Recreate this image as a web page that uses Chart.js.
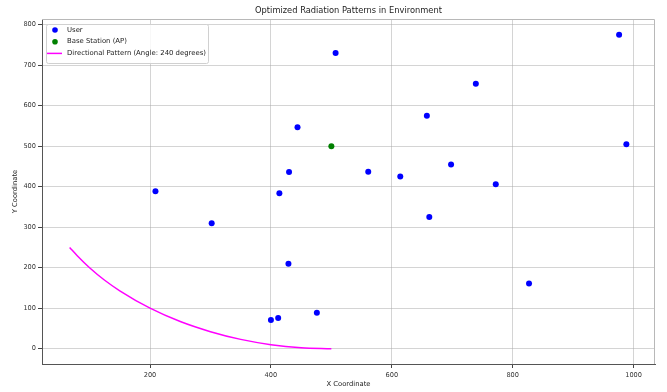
<!DOCTYPE html>
<html lang="en">
<head>
<meta charset="UTF-8">
<title>Optimized Radiation Patterns in Environment</title>
<script src="https://cdn.jsdelivr.net/npm/chart.js"></script>
<style>
    body { margin: 0; background: #fff; }
    #wrap { width: 667px; height: 392px; }
</style>
</head>
<body>
<div id="wrap"><canvas id="chart" width="667" height="392"></canvas></div>
<script>
// Users
const userX = [507, 444, 430, 209, 414, 976, 739, 658, 988, 561, 614, 698, 772, 302, 429, 400, 412, 476, 662, 827];
const userY = [730, 547, 436, 389, 384, 775, 654, 575, 505, 437, 425, 455, 406, 310, 210, 71, 76, 89, 325, 161];

// Base station
const apX = [500];
const apY = [500];

// Directional pattern curve
const patternX = [67, 80, 100, 125, 150, 200, 250, 300, 350, 400, 450, 500];
const patternY = [250, 229, 200, 169, 143, 100, 67, 42, 23, 10, 2.5, 0];

// Axis ticks
const xTicks = [200, 400, 600, 800, 1000];
const yTicks = [0, 100, 200, 300, 400, 500, 600, 700, 800];

const font = 'DejaVu Sans';

function pts(xs, ys) {
    return xs.map((x, i) => ({ x: x, y: ys[i] }));
}

// Draws title, axis labels, frame and legend like the original figure
const decor = {
    id: 'decor',
    afterDraw(chart) {
        const c = chart.ctx;
        const a = chart.chartArea;
        c.save();

        // frame top / right
        c.strokeStyle = '#b8b8b8';
        c.lineWidth = 1;
        c.beginPath();
        c.moveTo(a.left, a.top + 0.5);
        c.lineTo(a.right - 0.5, a.top + 0.5);
        c.lineTo(a.right - 0.5, a.bottom);
        c.stroke();

        c.fillStyle = '#222';
        c.textAlign = 'center';
        c.textBaseline = 'middle';
        c.font = '8.3px "' + font + '"';
        c.fillText('Optimized Radiation Patterns in Environment', (a.left + a.right) / 2, 11);

        c.font = '6.8px "' + font + '"';
        c.fillText('X Coordinate', (a.left + a.right) / 2, 384);
        c.translate(15, (a.top + a.bottom) / 2);
        c.rotate(-Math.PI / 2);
        c.fillText('Y Coordinate', 0, 0);
        c.restore();

        // legend
        c.save();
        const lx = 46, ly = 24, lw = 162, lh = 39;
        c.fillStyle = 'rgba(255,255,255,0.85)';
        c.strokeStyle = '#d0d0d0';
        c.lineWidth = 1;
        c.beginPath();
        c.roundRect(lx + 0.5, ly + 0.5, lw, lh, 2);
        c.fill();
        c.stroke();

        c.font = '6.9px "' + font + '"';
        c.textAlign = 'left';
        c.textBaseline = 'middle';
        const rows = [
            { label: 'User', kind: 'dot', color: '#0000ff' },
            { label: 'Base Station (AP)', kind: 'dot', color: '#008000' },
            { label: 'Directional Pattern (Angle: 240 degrees)', kind: 'line', color: '#ff00ff' }
        ];
        rows.forEach((r, i) => {
            const y = ly + 6 + i * 11.7;
            if (r.kind === 'dot') {
                c.fillStyle = r.color;
                c.beginPath();
                c.arc(55, y, 2.8, 0, Math.PI * 2);
                c.fill();
            } else {
                c.strokeStyle = r.color;
                c.lineWidth = 1.5;
                c.beginPath();
                c.moveTo(47, y);
                c.lineTo(62, y);
                c.stroke();
            }
            c.fillStyle = '#222';
            c.fillText(r.label, 67, y);
        });
        c.restore();
    }
};

const ctx = document.getElementById('chart').getContext('2d');
new Chart(ctx, {
    type: 'scatter',
    data: {
        datasets: [
            {
                label: 'User',
                data: pts(userX, userY),
                backgroundColor: '#0000ff',
                borderColor: '#0000ff',
                pointRadius: 3,
                pointBorderWidth: 0
            },
            {
                label: 'Base Station (AP)',
                data: pts(apX, apY),
                backgroundColor: '#008000',
                borderColor: '#008000',
                pointRadius: 3,
                pointBorderWidth: 0
            },
            {
                label: 'Directional Pattern (Angle: 240 degrees)',
                data: pts(patternX, patternY),
                showLine: true,
                borderColor: '#ff00ff',
                borderWidth: 1.5,
                pointRadius: 0,
                cubicInterpolationMode: 'monotone'
            }
        ]
    },
    options: {
        responsive: false,
        animation: false,
        devicePixelRatio: 1,
        layout: { padding: { top: 19, right: 12, left: 0, bottom: 0 } },
        plugins: {
            legend: { display: false },
            title: { display: false },
            tooltip: { enabled: false }
        },
        scales: {
            x: {
                type: 'linear',
                min: 21.3,
                max: 1035.4,
                afterFit(s) { s.height = 28; },
                afterBuildTicks(s) { s.ticks = xTicks.map(v => ({ value: v })); },
                grid: { color: 'rgba(170,170,170,0.5)', tickLength: 4, tickColor: '#444' },
                border: { color: '#555', width: 1 },
                ticks: { font: { family: font, size: 6.6 }, color: '#333', padding: 3, maxRotation: 0, callback: v => String(v) }
            },
            y: {
                type: 'linear',
                min: -37.8,
                max: 814,
                afterFit(s) { s.width = 42; },
                afterBuildTicks(s) { s.ticks = yTicks.map(v => ({ value: v })); },
                grid: { color: 'rgba(170,170,170,0.5)', tickLength: 4, tickColor: '#444' },
                border: { color: '#555', width: 1 },
                ticks: { font: { family: font, size: 6.6 }, color: '#333', padding: 2, callback: v => String(v) }
            }
        }
    },
    plugins: [decor]
});
</script>
</body>
</html>
